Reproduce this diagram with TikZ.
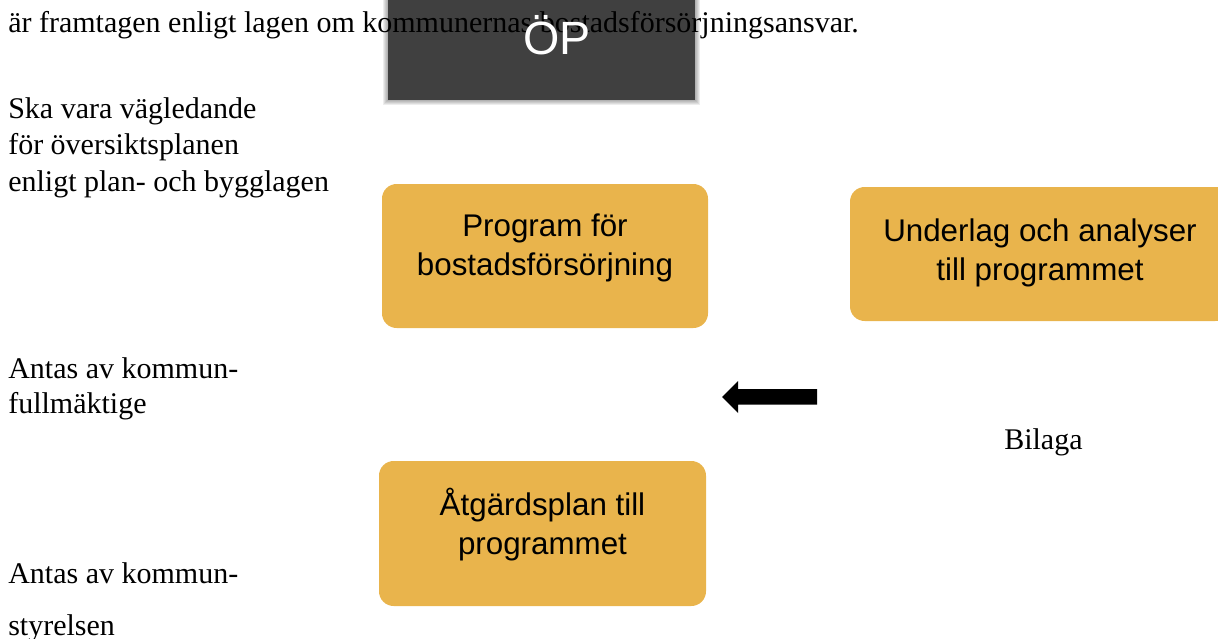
\documentclass[tikz,border=0pt]{standalone}
\usepackage{fontspec}
\setmainfont{Liberation Serif}
\newfontfamily\boxfont{Liberation Sans}
\definecolor{boxyellow}{HTML}{E9B44C}
\definecolor{opgrey}{HTML}{404040}
\begin{document}
\begin{tikzpicture}[x=0.75pt, y=-0.75pt, style={
    yellowstyle/.style={
      rectangle, rounded corners=11pt,
      fill=boxyellow, inner sep=0pt,
    },
    boxtext/.style={
      align=center, inner sep=0pt,
      font=\boxfont\fontsize{23.5}{29.25}\selectfont,
    },
    notestyle/.style={
      align=left, inner sep=0pt,
      font=\fontsize{22.5}{27.2}\selectfont,
    },
  }]
  \useasboundingbox (0,0) rectangle (1218,639);
  \clip (0,0) rectangle (1218,639);
  \foreach \d in {1,...,5} {
    \fill[black, opacity=0.07] (388-\d,-20) rectangle (695+\d,100+\d);
  }
  \node[fill=opgrey, minimum width=307*0.75pt, minimum height=130*0.75pt,
    inner sep=0pt, anchor=south west] (op) at (388,100) {};
  \node[notestyle, anchor=base west] (intro) at (8,32.5)
    {är framtagen enligt lagen om kommunernas bostadsförsörjningsansvar.};
  \node[font=\boxfont\fontsize{35}{35}\selectfont, text=white, anchor=base]
    (optext) at (557,55) {ÖP};

  \node[yellowstyle, minimum width=326*0.75pt, minimum height=144*0.75pt]
    (program) at (545,256) {};
  \node[boxtext] (programtext) at (545,248.3) {Program för\\bostadsförsörjning};
  \node[yellowstyle, minimum width=380*0.75pt, minimum height=134*0.75pt]
    (underlag) at (1040,254) {};
  \node[boxtext] (underlagtext) at (1040,253) {Underlag och analyser\\till programmet};
  \node[yellowstyle, minimum width=327*0.75pt, minimum height=145*0.75pt]
    (atgard) at (542.5,533.5) {};
  \node[boxtext] (atgardtext) at (542.5,524.5) {Åtgärdsplan till\\programmet};

  \fill (722,397) -- (738,381) -- (738,389) -- (817,389) -- (817,404.5)
    -- (738,404.5) -- (738,413) -- cycle;

  \node[notestyle, anchor=north west] (guide) at (8,97.5)
    {Ska vara vägledande\\för översiktsplanen\\enligt plan- och bygglagen};
  \node[notestyle, anchor=north west, font=\fontsize{22.5}{26.25}\selectfont]
    (fullmakt) at (8,357.5) {Antas av kommun-\\fullmäktige};
  \node[notestyle, anchor=north west, font=\fontsize{22.5}{39}\selectfont]
    (styrelse) at (8,562.5) {Antas av kommun-\\styrelsen};
  \node[notestyle, anchor=base west] (bilaga) at (1004,449) {Bilaga};
\end{tikzpicture}
\end{document}
